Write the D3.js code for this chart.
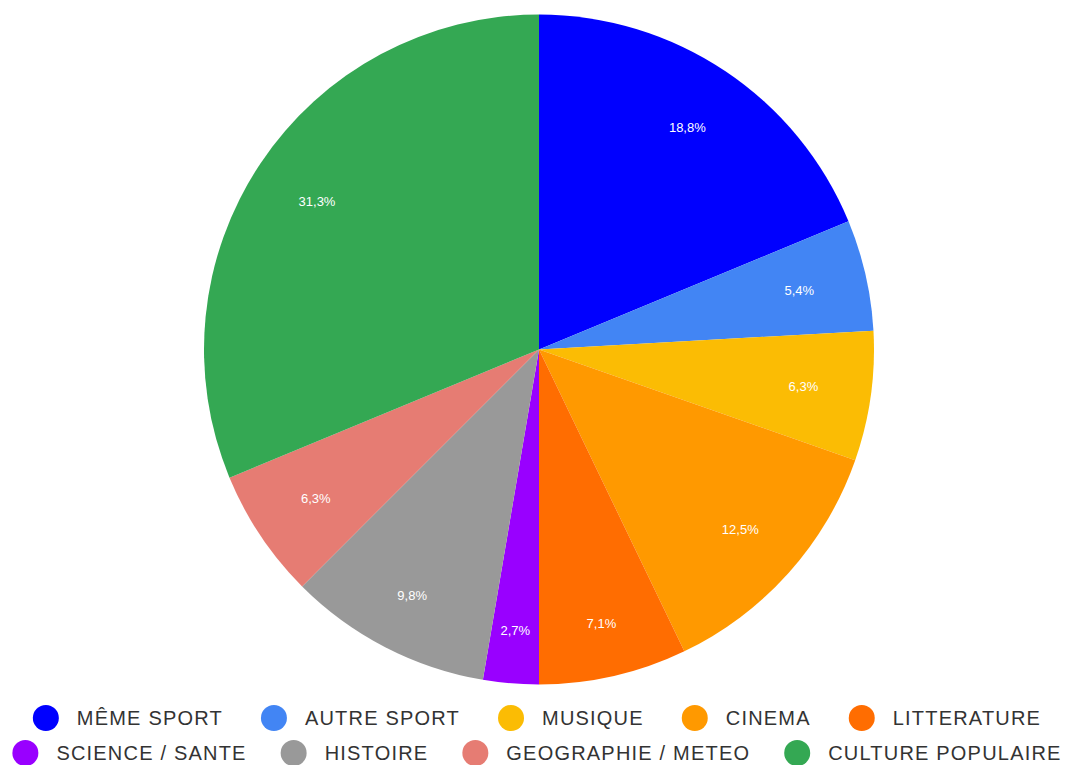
<!DOCTYPE html>
<html>
<head>
<meta charset="utf-8">
<script src="https://cdn.jsdelivr.net/npm/d3@7"></script>
<style>
  html, body { margin: 0; padding: 0; background: #fff; }
  svg { display: block; }
</style>
</head>
<body>
<div class="pie-container"></div>
<script>
var categories = ['MÊME SPORT', 'AUTRE SPORT', 'MUSIQUE', 'CINEMA', 'LITTERATURE',
                  'SCIENCE / SANTE', 'HISTOIRE', 'GEOGRAPHIE / METEO', 'CULTURE POPULAIRE'];
var counts = [21, 6, 7, 14, 8, 3, 11, 7, 35];
var colors = ['#0000ff', '#4285f4', '#fbbc04', '#ff9900', '#ff6d01',
              '#9900ff', '#999999', '#e67c73', '#34a853'];
var legendRows = [[0, 1, 2, 3, 4], [5, 6, 7, 8]];

var width = 1067, height = 765;
var cx = 539, cy = 349.5, radius = 335;

var svg = d3.select('.pie-container')
    .append('svg')
    .attr('width', width)
    .attr('height', height);

var total = d3.sum(counts);
var data = categories.map(function(c, i) {
    return { name: c, value: counts[i], color: colors[i] };
});

var pie = d3.pie().sort(null).value(function(d) { return d.value; });
var arc = d3.arc().innerRadius(0).outerRadius(radius);

var g = svg.append('g').attr('transform', 'translate(' + cx + ',' + cy + ')');

var slices = g.selectAll('g.slice').data(pie(data)).enter().append('g').attr('class', 'slice');

slices.append('path')
    .attr('d', arc)
    .attr('fill', function(d) { return d.data.color; });

var fmt = function(v) { return (v / total * 100).toFixed(1).replace('.', ',') + '%'; };

// labels sit a bit further out near the bottom of the pie
function labelPos(d) {
    var a = (d.startAngle + d.endAngle) / 2;
    var down = Math.max(0, -Math.cos(a));
    var r = 267 + 15 * Math.pow(down, 4);
    return [Math.sin(a) * r, -Math.cos(a) * r];
}

slices.append('text')
    .attr('transform', function(d) { return 'translate(' + labelPos(d) + ')'; })
    .attr('dy', '0.35em')
    .style('text-anchor', 'middle')
    .style('font-family', 'Liberation Sans, Arial, sans-serif')
    .style('font-size', '13px')
    .attr('fill', '#ffffff')
    .text(function(d) { return fmt(d.data.value); });

// legend
var rowY = [718, 753];
var rowGap = [38, 34];
var dotR = 13, dotGap = 18, legendCenter = 537;

legendRows.forEach(function(row, ri) {
    var lg = svg.append('g');
    var items = lg.selectAll('g.item').data(row).enter().append('g').attr('class', 'item');
    items.append('circle')
        .attr('r', dotR)
        .attr('cx', dotR)
        .attr('cy', 0)
        .attr('fill', function(i) { return colors[i]; });
    items.append('text')
        .attr('x', dotR * 2 + dotGap)
        .attr('dy', '0.36em')
        .style('font-family', 'Liberation Sans, Arial, sans-serif')
        .style('font-size', '20px')
        .style('letter-spacing', '1.2px')
        .attr('fill', '#333333')
        .text(function(i) { return categories[i]; });

    var x = 0;
    items.each(function() {
        var t = d3.select(this).select('text').node().getComputedTextLength();
        d3.select(this).attr('transform', 'translate(' + x + ',0)');
        x += dotR * 2 + dotGap + t + rowGap[ri];
    });
    var rowWidth = x - rowGap[ri];
    lg.attr('transform', 'translate(' + (legendCenter - rowWidth / 2) + ',' + rowY[ri] + ')');
});
</script>
</body>
</html>
